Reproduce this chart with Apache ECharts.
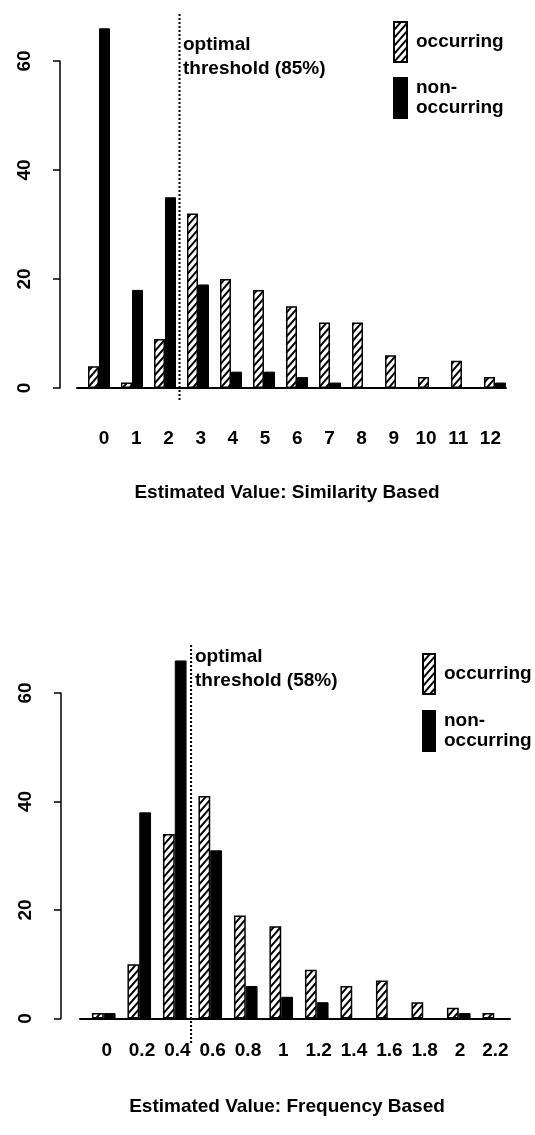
<!DOCTYPE html>
<html><head><meta charset="utf-8">
<script src="https://cdn.jsdelivr.net/npm/echarts@6/dist/echarts.min.js"></script>
<style>html,body{margin:0;padding:0;background:#fff}#c{width:535px;height:1135px}</style>
</head><body><div id="c"></div>
<script>
// ---------- data ----------
const simCategories = ['0','1','2','3','4','5','6','7','8','9','10','11','12'];
const simOccurring = [4,1,9,32,20,18,15,12,12,6,2,5,2];
const simNonOccurring = [66,18,35,19,3,3,2,1,0,0,0,0,1];
const simThreshold = 2.44;          // position in category-index units
const simThresholdText = ['optimal', 'threshold (85%)'];
const simTitle = 'Estimated Value: Similarity Based';

const freqCategories = ['0','0.2','0.4','0.6','0.8','1','1.2','1.4','1.6','1.8','2','2.2'];
const freqOccurring = [1,10,34,41,19,17,9,6,7,3,2,1];
const freqNonOccurring = [1,38,66,31,6,4,3,0,0,0,1,0];
const freqThreshold = 2.46;
const freqThresholdText = ['optimal', 'threshold (58%)'];
const freqTitle = 'Estimated Value: Frequency Based';

const yMax = 60, yStep = 20, barMax = 70;
const seriesNames = ['occurring', 'non-occurring'];

// ---------- styles ----------
const FONT = 'Liberation Sans, Arial, Helvetica, sans-serif';
const FW = 'bold';
function hatch(){
  const w=7,h=8,c=document.createElement('canvas'); c.width=w; c.height=h;
  const x=c.getContext('2d'); x.fillStyle='#fff'; x.fillRect(0,0,w,h);
  x.strokeStyle='#000'; x.lineWidth=2; x.lineCap='square';
  x.beginPath();
  x.moveTo(-w,2*h); x.lineTo(2*w,-h);
  x.moveTo(-2*w,2*h); x.lineTo(w,-h);
  x.moveTo(0,2*h); x.lineTo(3*w,-h);
  x.stroke(); return c;
}
const hatchImg = hatch();
const occStyle = {color:{image:hatchImg, repeat:'repeat'}, borderColor:'#000', borderWidth:1.5};
const nonStyle = {color:'#000', borderColor:'#000', borderWidth:1};

const chart = echarts.init(document.getElementById('c'), null, {renderer:'canvas'});

function panel(o){
  const g = o.base;
  const grids = [
    {left:o.barLeft, top:o.zeroY - o.scale*barMax, width:o.barWidthTotal, height:o.scale*barMax},
    {left:o.axisX, top:o.zeroY - o.scale*yMax, width:10, height:o.scale*yMax},
    {left:o.lineLeft, top:o.zeroY - o.scale*yMax, width:o.lineWidth, height:o.scale*yMax},
    {left:o.labLeft, top:o.zeroY - o.scale*yMax, width:o.labWidth, height:o.scale*yMax},
    {left:o.barLeft, top:o.thrTop, width:o.barWidthTotal, height:o.thrBottom - o.thrTop}
  ];
  const xAxes = [
    {gridIndex:g, type:'category', data:o.cats, show:false},
    {gridIndex:g+1, type:'value', show:false},
    {gridIndex:g+2, type:'value', min:0, max:1, axisLine:{show:true, onZero:false, lineStyle:{color:'#000', width:2}},
      axisTick:{show:false}, axisLabel:{show:false}, splitLine:{show:false}},
    {gridIndex:g+3, type:'category', data:o.cats, axisLine:{show:false}, axisTick:{show:false},
      axisLabel:{interval:0, margin:o.labMargin, color:'#000', fontSize:19, fontWeight:FW, fontFamily:FONT}},
    {gridIndex:g+4, type:'value', min:-0.5, max:o.cats.length-0.5, show:false}
  ];
  const yAxes = [
    {gridIndex:g, type:'value', min:0, max:barMax, show:false},
    {gridIndex:g+1, type:'value', min:0, max:yMax, interval:yStep,
      axisLine:{show:true, lineStyle:{color:'#000', width:1.5}},
      axisTick:{show:true, length:7, lineStyle:{color:'#000', width:1.5}},
      axisLabel:{rotate:90, margin:26, color:'#000', fontSize:19, fontWeight:FW, fontFamily:FONT},
      splitLine:{show:false}},
    {gridIndex:g+2, type:'value', min:0, max:1, show:false},
    {gridIndex:g+3, type:'value', min:0, max:1, show:false},
    {gridIndex:g+4, type:'value', min:0, max:1, show:false}
  ];
  const series = [
    {name:seriesNames[0], type:'bar', xAxisIndex:g, yAxisIndex:g, data:o.occ, barWidth:o.bw, barGap:'0%',
      itemStyle:occStyle, silent:true, animation:false},
    {name:seriesNames[1], type:'bar', xAxisIndex:g, yAxisIndex:g, data:o.non, barWidth:o.bw, barGap:'0%',
      itemStyle:nonStyle, silent:true, animation:false},
    {type:'line', xAxisIndex:g+4, yAxisIndex:g+4, data:[[o.thr,0],[o.thr,1]], symbol:'none', silent:true,
      animation:false, lineStyle:{color:'#000', width:2, type:[2,2]}}
  ];
  const legend = {
    left:o.legLeft, top:o.legTop, padding:0, orient:'vertical', itemWidth:o.legW, itemHeight:40, itemGap:o.legGap,
    icon:'rect', selectedMode:false,
    data:[{name:seriesNames[0], textStyle:{padding:[0,0,17,4]}}, {name:seriesNames[1], textStyle:{padding:[0,0,0,4]}}],
    formatter:n => n === 'non-occurring' ? 'non-\noccurring' : n,
    textStyle:{color:'#000', fontSize:19, fontWeight:FW, fontFamily:FONT, lineHeight:20}
  };
  const txtFont = FW + ' 19px ' + FONT;
  const graphics = [
    {type:'text', x:o.thrTextX, y:o.thrTextY, style:{text:o.thrText[0], fill:'#000', font:txtFont, verticalAlign:'middle'}},
    {type:'text', x:o.thrTextX, y:o.thrTextY+24, style:{text:o.thrText[1], fill:'#000', font:txtFont, verticalAlign:'middle'}},
    {type:'text', x:287, y:o.titleY, style:{text:o.title, fill:'#000', font:txtFont, align:'center', verticalAlign:'middle'}}
  ];
  return {grids, xAxes, yAxes, series, legend, graphics};
}

const topPanel = panel({base:0, cats:simCategories, occ:simOccurring, non:simNonOccurring, thr:simThreshold,
  barLeft:82.5, barWidthTotal:429, bw:11, zeroY:388, scale:5.45, axisX:60,
  lineLeft:77, lineWidth:429, labLeft:88, labWidth:418.5, labMargin:41,
  thrTop:13, thrBottom:400, thrText:simThresholdText, thrTextX:183, thrTextY:45,
  legLeft:393, legTop:21, legW:13, legGap:14, title:simTitle, titleY:493});
const botPanel = panel({base:5, cats:freqCategories, occ:freqOccurring, non:freqNonOccurring, thr:freqThreshold,
  barLeft:86, barWidthTotal:426, bw:11.8, zeroY:1018.5, scale:5.425, axisX:61,
  lineLeft:80, lineWidth:430, labLeft:89, labWidth:424, labMargin:23,
  thrTop:645, thrBottom:1043, thrText:freqThresholdText, thrTextX:195, thrTextY:657,
  legLeft:422, legTop:653, legW:12, legGap:15, title:freqTitle, titleY:1107});

chart.setOption({
  backgroundColor:'#fff',
  animation:false,
  grid:[...topPanel.grids, ...botPanel.grids],
  xAxis:[...topPanel.xAxes, ...botPanel.xAxes],
  yAxis:[...topPanel.yAxes, ...botPanel.yAxes],
  series:[...topPanel.series, ...botPanel.series],
  legend:[topPanel.legend, botPanel.legend],
  graphic:[...topPanel.graphics, ...botPanel.graphics]
});
</script></body></html>
